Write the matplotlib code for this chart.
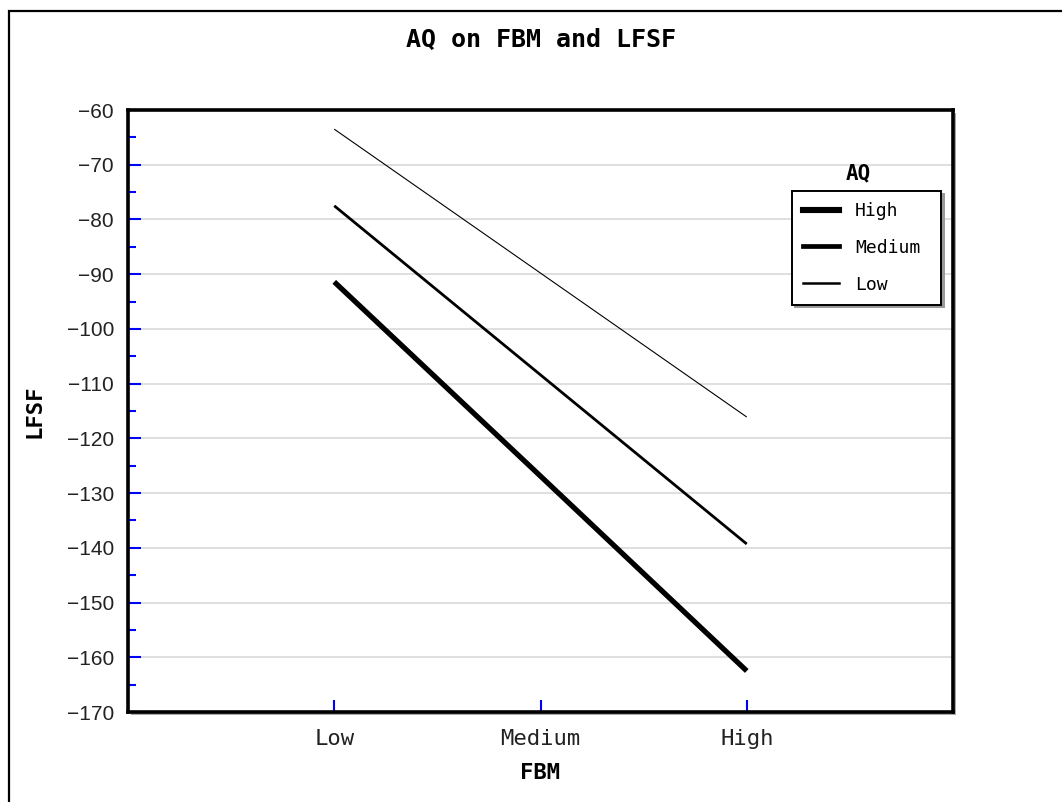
import matplotlib
matplotlib.use("Agg")
import matplotlib.pyplot as plt
from matplotlib.patches import Rectangle
from matplotlib.lines import Line2D
from matplotlib.ticker import MultipleLocator

# ---- data ----
fbm_levels = ["Low", "Medium", "High"]
aq_levels = ["High", "Medium", "Low"]
lfsf_aq_high = [-91.4, -126.9, -162.5]
lfsf_aq_medium = [-77.5, -108.4, -139.3]
lfsf_aq_low = [-63.5, -89.8, -116.1]
y_ticks = [-170, -160, -150, -140, -130, -120, -110, -100, -90, -80, -70, -60]

W, H = 1062, 802
fig = plt.figure(figsize=(W / 100, H / 100), dpi=100)
fig.patch.set_facecolor("white")

L, R, T, B = 128, 953, 110, 712
ax = fig.add_axes([L / W, 1 - B / H, (R - L) / W, (B - T) / H])

# outer frame (right and bottom edges fall outside the image)
fig.patches.append(Rectangle((9 / W, -0.2), 1.2, 1.2 - 11 / H, transform=fig.transFigure,
                             fill=False, edgecolor="black", linewidth=1.6, zorder=-2))
# axes shadow
fig.patches.append(Rectangle(((L + 3) / W, 1 - (B + 3) / H), (R - L) / W, (B - T) / H,
                             transform=fig.transFigure, facecolor="#a8a8a8",
                             edgecolor="none", zorder=-1))

x = list(range(len(fbm_levels)))
series = [lfsf_aq_high, lfsf_aq_medium, lfsf_aq_low]
widths = [3.8, 2.0, 0.8]
for vals, lw in zip(series, widths):
    ax.plot(x, vals, color="black", linewidth=lw, solid_capstyle="butt", zorder=3)

ax.set_xlim(-1, 3)
ax.set_ylim(-170, -60)
ax.set_yticks(y_ticks)
ax.yaxis.set_minor_locator(MultipleLocator(5))
ax.set_xticks(x)
ax.set_xticklabels(fbm_levels, family="DejaVu Sans Mono", fontsize=16)
ax.set_yticklabels([f"\u2212{abs(v)}" for v in y_ticks], family="Liberation Sans", fontsize=15)

for g in y_ticks[1:-1]:
    ax.axhline(g, color="#dcdcdc", linewidth=1.3, zorder=1)

ax.tick_params(axis="y", which="major", direction="in", length=9, width=1.5,
               color="blue", pad=10, labelcolor="#222222")
ax.tick_params(axis="y", which="minor", direction="in", length=6, width=1.5, color="blue")
ax.tick_params(axis="x", which="major", direction="in", length=9, width=1.5,
               color="blue", pad=12, labelcolor="#222222")
ax.tick_params(top=False, right=False)

for s in ax.spines.values():
    s.set_linewidth(2.6)
    s.set_color("black")
    s.set_zorder(5)

ax.set_xlabel("FBM", fontsize=16, fontweight="bold", family="DejaVu Sans Mono", labelpad=10)
ax.set_ylabel("LFSF", fontsize=16, fontweight="bold", family="DejaVu Sans Mono", labelpad=16)

fig.text(0.5 * (L + R) / W, 1 - 40 / H, "AQ on FBM and LFSF", ha="center", va="center",
         fontsize=18, family="DejaVu Sans Mono", fontweight="bold")

handles = [Line2D([], [], color="black", linewidth=4.4),
           Line2D([], [], color="black", linewidth=3.4),
           Line2D([], [], color="black", linewidth=1.8)]
lx0 = (792 - L) / (R - L)
ly1 = (B - 191) / (B - T)
lw_ = (941 - 792) / (R - L)
lh = (303 - 191) / (B - T)
leg = ax.legend(handles, aq_levels, loc="upper left",
                bbox_to_anchor=(lx0, ly1 - lh, lw_, lh), mode="expand",
                prop={"family": "DejaVu Sans Mono", "size": 13},
                frameon=True, fancybox=False, shadow={"color": "#999999", "alpha": 1},
                borderpad=0.6, labelspacing=1.05, handlelength=2.0, handletextpad=0.9,
                borderaxespad=0)
leg.get_frame().set_edgecolor("black")
leg.get_frame().set_linewidth(1.4)
leg.set_zorder(6)

ax.text((858 - L) / (R - L), (B - 173) / (B - T), "AQ", transform=ax.transAxes,
        ha="center", va="center", fontsize=15, fontweight="bold", family="DejaVu Sans Mono")

fig.savefig("out.png", dpi=100)
